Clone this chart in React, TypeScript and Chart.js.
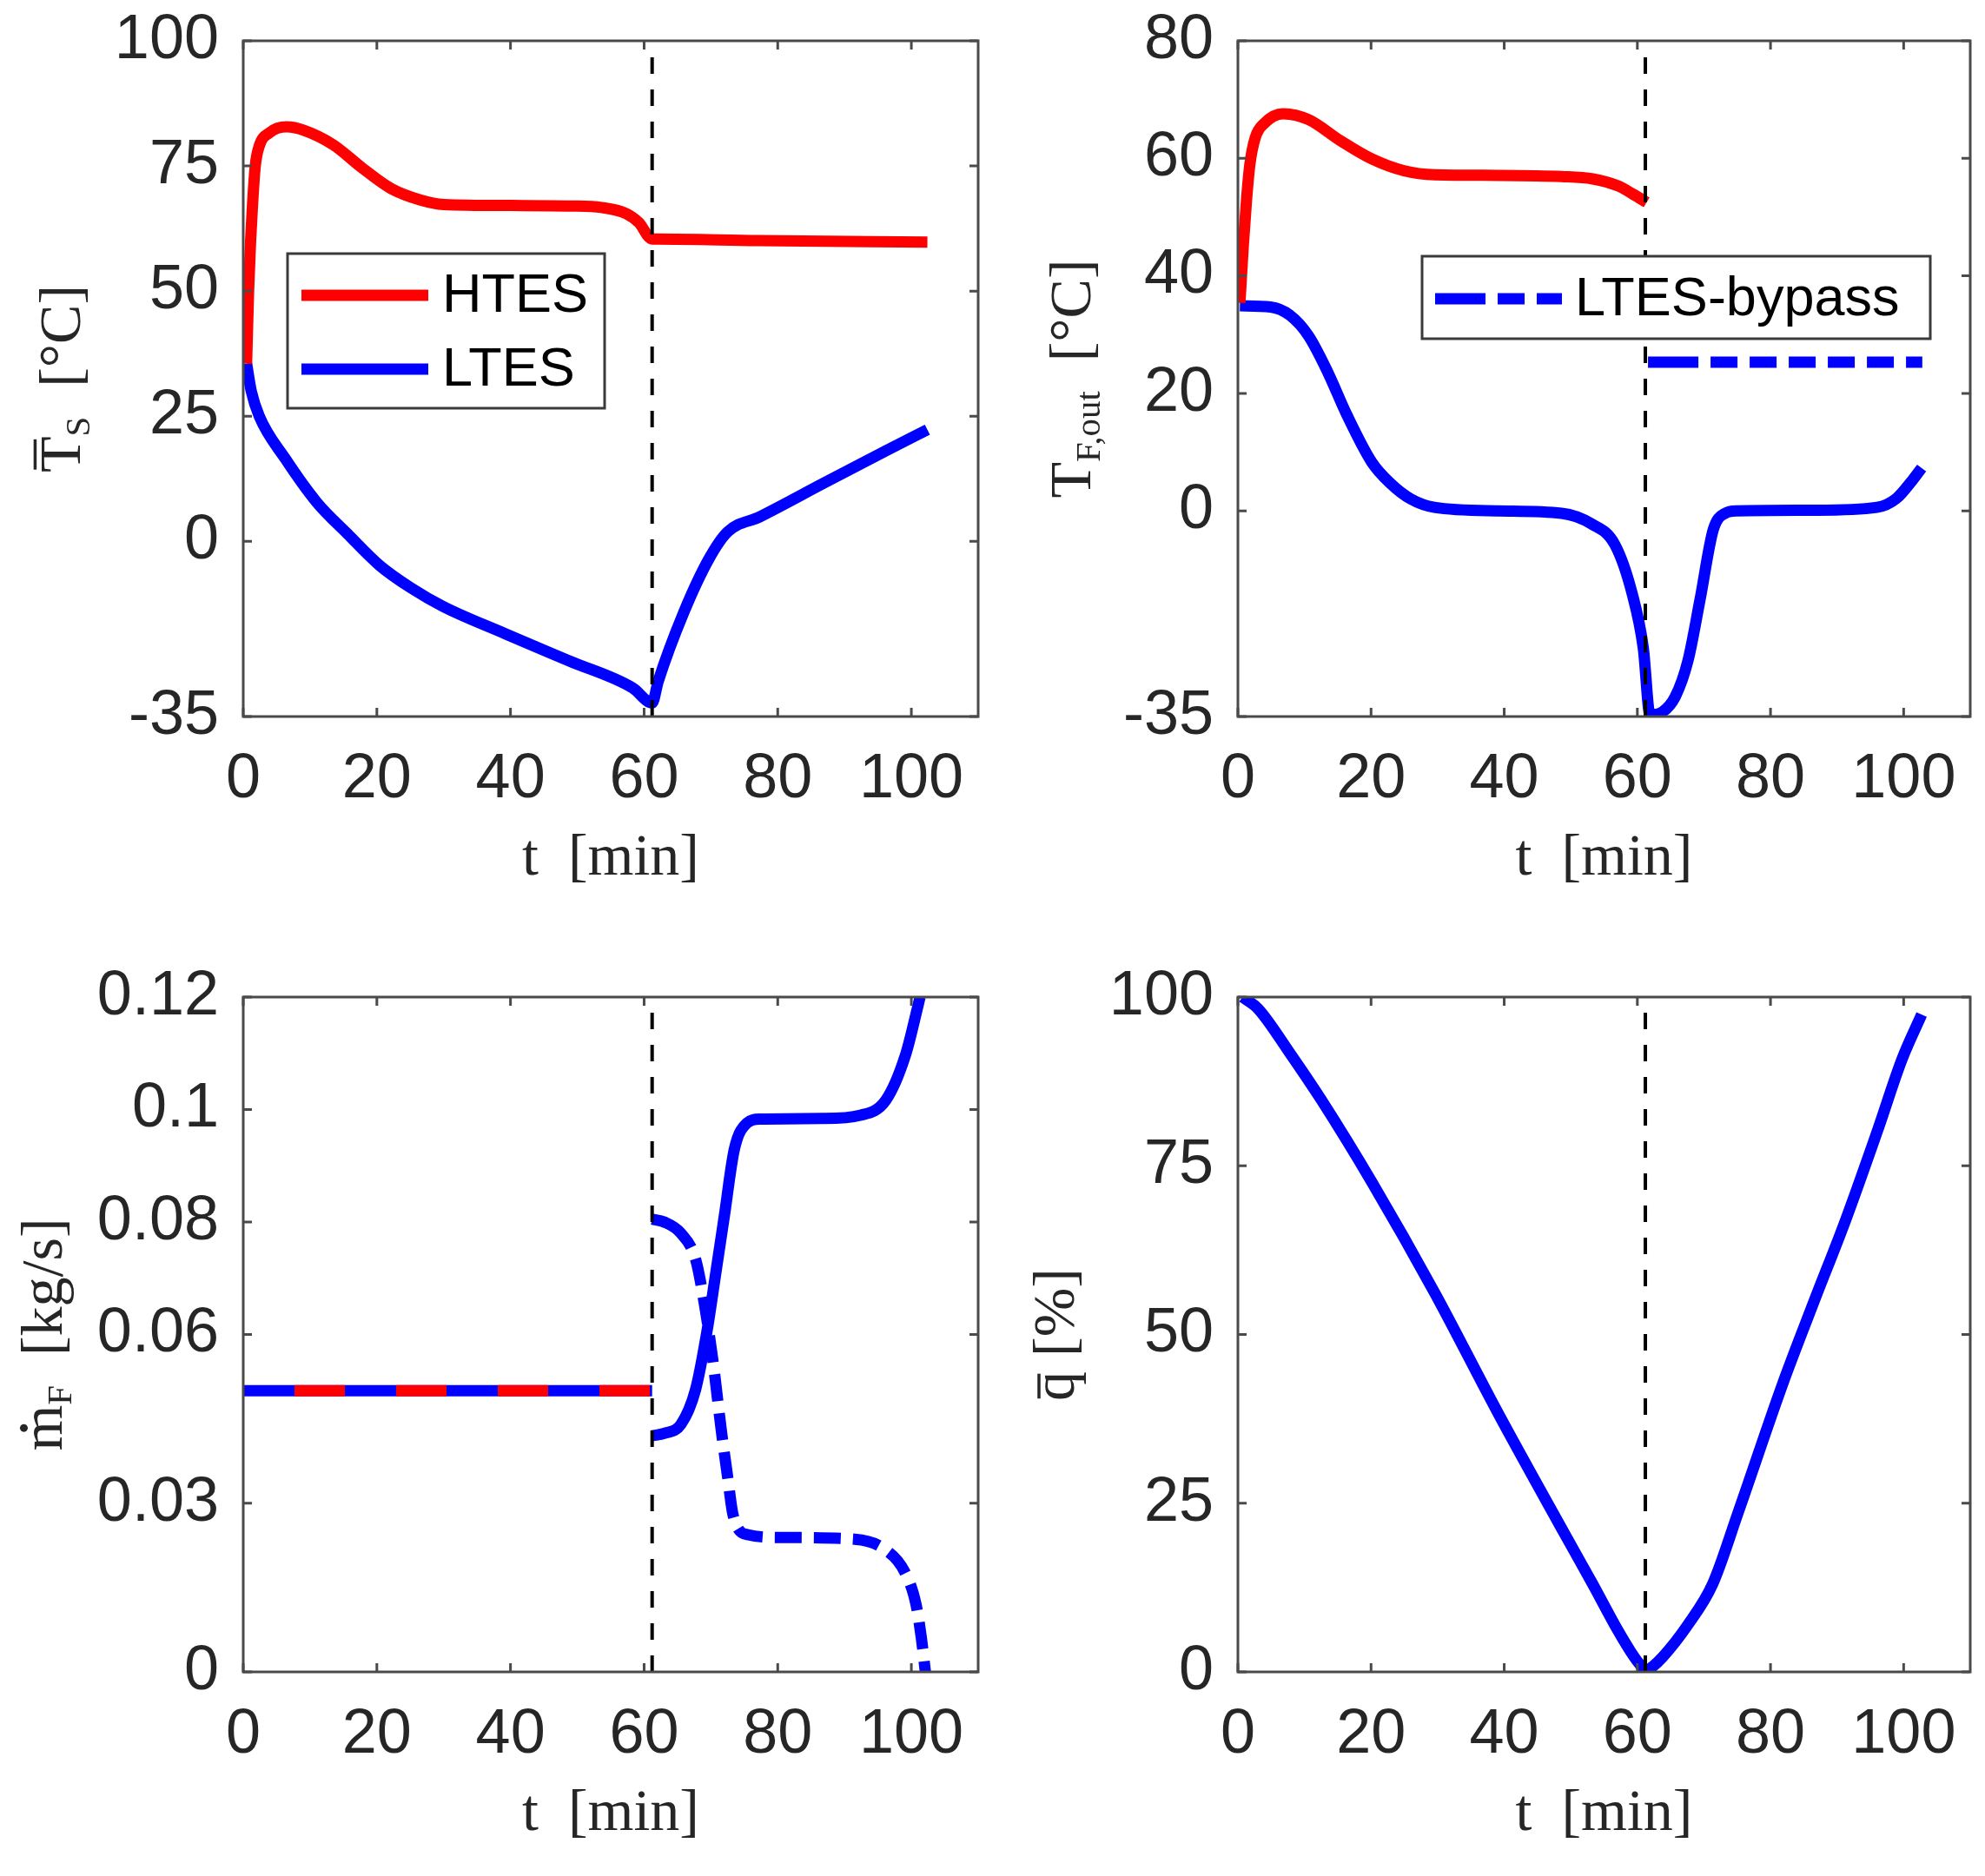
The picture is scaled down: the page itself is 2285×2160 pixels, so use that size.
import React, { useEffect, useRef } from 'react';
import { Chart, registerables } from 'chart.js';

Chart.register(...registerables);

const RED = '#ff0000';
const BLUE = '#0000ff';
const AXIS_COLOR = '#4a4a4a';
const TEXT_COLOR = '#262626';
const SANS = '"Liberation Sans", Arial, sans-serif';
const SERIF = '"Liberation Serif", "Times New Roman", serif';

// ---- shared x axis ----
const X_MIN = 0;
const X_MAX = 110;
const X_TICKS = [0, 20, 40, 60, 80, 100];
const T_SWITCH = 61.2;

// ---- panel 1: mean storage temperature ----
const Y1_MIN = -35;
const Y1_MAX = 100;
const Y1_TICKS = [-35, 0, 25, 50, 75, 100];
const P1_HTES_T = [0.5, 0.8, 1.1, 1.4, 1.8, 2.4, 3.9, 6.5, 9.1, 13.5, 17.8, 22.1, 26.5, 30, 40, 49, 53.6, 57.3, 59.2, 61.2, 62, 77, 102.4];
const P1_HTES_Y = [35.5, 50, 60, 67.5, 75, 79, 81.6, 82.8, 82.1, 79.2, 74.6, 70.5, 68.2, 67.3, 67.1, 67, 66.7, 65.5, 63.7, 60.4, 60.4, 60.1, 59.8];
const P1_LTES_T = [0.5, 1.2, 2.4, 6.3, 11, 15.6, 20.4, 25.1, 29.9, 39.3, 48.8, 58.3, 61.2, 62.1, 65.9, 69.7, 72.5, 77.3, 86.7, 96.2, 102.4];
const P1_LTES_Y = [35.5, 30, 25, 16.5, 7.8, 1.5, -4.8, -9.3, -13, -18.5, -23.9, -29.3, -32.3, -28, -14.3, -3.5, 1.9, 4.9, 11.5, 18.1, 22.3];

// ---- panel 2: fluid outlet temperature ----
const Y2_MIN = -35;
const Y2_MAX = 80;
const Y2_TICKS = [-35, 0, 20, 40, 60, 80];
const P2_HTES_T = [0.3, 0.8, 1.3, 1.8, 2.6, 4, 6.8, 10.6, 15.4, 20.1, 24.9, 29.6, 39.1, 48.6, 53.3, 57.1, 59.5, 61.4];
const P2_HTES_Y = [35.4, 45, 53, 59, 63.5, 66, 67.6, 66.6, 63, 59.9, 57.9, 57.2, 57.1, 56.9, 56.5, 55.3, 53.8, 52.5];
const P2_LTES_T = [0.3, 4.9, 7.8, 10.6, 13.5, 16.3, 20.1, 22.8, 26, 29.5, 39.1, 48.6, 53.1, 56.6, 59.2, 60.9, 61.9, 63.8, 65.7, 67.6, 69.4, 71.4, 73.2, 74.9, 86.5, 96, 98.9, 101.3, 102.7];
const P2_LTES_Y = [34.9, 34.7, 33.3, 29.8, 23.6, 16.5, 8.3, 4.8, 2, 0.6, 0, -0.4, -2.2, -5.7, -14, -23.4, -34.7, -34.2, -31.6, -25.5, -15.2, -3.2, -0.4, 0, 0.1, 0.6, 2.1, 5.2, 7.3];
const P2_BYPASS_T = [61.6, 102.8];
const P2_BYPASS_Y = [25.3, 25.3];

// ---- panel 3: mass flow ----
const Y3_MIN = 0;
const Y3_MAX = 0.12;
const Y3_TICKS = [0, 0.03, 0.06, 0.08, 0.1, 0.12];
const P3_CHARGE_T = [0, 61.2];
const P3_CHARGE_Y = [0.05, 0.05];
const P3_LTES_T = [61.2, 63, 65.5, 67.7, 69.4, 70.7, 72, 73.5, 75.4, 77.3, 86.7, 92.4, 96.2, 99.1, 100.9, 101.3];
const P3_LTES_Y = [0.042, 0.0424, 0.044, 0.0502, 0.0605, 0.0707, 0.081, 0.0929, 0.0976, 0.0983, 0.0984, 0.099, 0.1017, 0.1096, 0.118, 0.12];
const P3_BYPASS_T = [61.2, 63, 65.5, 67.7, 69, 70.3, 71.6, 72.5, 73.3, 75.5, 80.7, 91.5, 95.9, 99, 100.7, 101.5, 102.1];
const P3_BYPASS_Y = [0.0805, 0.08, 0.078, 0.0734, 0.0656, 0.0553, 0.0425, 0.0347, 0.028, 0.0244, 0.0239, 0.0236, 0.0219, 0.0178, 0.012, 0.006, 0];

// ---- panel 4: state of charge ----
const Y4_MIN = 0;
const Y4_MAX = 100;
const Y4_TICKS = [0, 25, 50, 75, 100];
const P4_Q_T = [0.7, 3, 7.8, 12.5, 20.1, 29.6, 39.1, 48.6, 53.3, 57.1, 59, 60.3, 61.3, 62.3, 63.8, 67.6, 71.3, 75.1, 81.8, 86.5, 91.3, 96, 99.8, 102.7];
const P4_Q_Y = [100, 98.3, 91.7, 84.8, 72.6, 56.1, 38.3, 21.3, 13, 6.1, 3, 1.2, 0.2, 0.8, 2.2, 7, 13, 23.5, 42.6, 54.8, 67, 80, 90.9, 97.4];

// ---- styles ----
const LINE_W = 13;
const DASH_BYPASS: number[] = [58, 14].concat(...Array.from({ length: 40 }, () => [31, 14]));
const DASH_VLINE = [19, 18];

const pts = (t: number[], y: number[]) => t.map((x, i) => ({ x, y: y[i] }));

const line = (label: string, t: number[], y: number[], color: string, extra: any = {}) => ({
  label,
  data: pts(t, y),
  borderColor: color,
  backgroundColor: color,
  borderWidth: LINE_W,
  pointRadius: 0,
  fill: false,
  cubicInterpolationMode: 'monotone',
  borderJoinStyle: 'round',
  order: 2,
  ...extra,
});

const vline = (ymin: number, ymax: number) => ({
  label: 'switch',
  data: pts([T_SWITCH, T_SWITCH], [ymin, ymax]),
  borderColor: '#000000',
  borderWidth: 4,
  borderDash: DASH_VLINE,
  pointRadius: 0,
  fill: false,
  order: 0,
});

type Part = { t: string; sub?: boolean; bar?: number; dot?: boolean };

type PanelCfg = {
  left: number; top: number; w: number; h: number;
  ca: { l: number; t: number; r: number; b: number };
  yMin: number; yMax: number; yTicks: number[];
  datasets: any[];
  yTitle: Part[]; yTitleOffset: number;
  legend?: { x: number; y: number; w: number; h: number; labels: string[]; rows: number[]; x0: number; x1: number; tx: number };
};

const X_TITLE: Part[] = [{ t: 't  [min]' }];

const PANELS: PanelCfg[] = [
  {
    left: 0, top: 0, w: 1142, h: 1080,
    ca: { l: 280, t: 47, r: 1126, b: 825 },
    yMin: Y1_MIN, yMax: Y1_MAX, yTicks: Y1_TICKS,
    datasets: [
      vline(Y1_MIN, Y1_MAX),
      line('HTES', P1_HTES_T, P1_HTES_Y, RED),
      line('LTES', P1_LTES_T, P1_LTES_Y, BLUE),
    ],
    yTitle: [{ t: 'T', bar: 0.74 }, { t: 'S', sub: true }, { t: '  [°C]' }],
    yTitleOffset: 188,
    legend: { x: 331, y: 292, w: 365, h: 178, labels: ['HTES', 'LTES'], rows: [340, 425], x0: 347, x1: 493, tx: 509 },
  },
  {
    left: 1142, top: 0, w: 1143, h: 1080,
    ca: { l: 283, t: 47, r: 1126, b: 825 },
    yMin: Y2_MIN, yMax: Y2_MAX, yTicks: Y2_TICKS,
    datasets: [
      vline(Y2_MIN, Y2_MAX),
      line('HTES', P2_HTES_T, P2_HTES_Y, RED),
      line('LTES', P2_LTES_T, P2_LTES_Y, BLUE),
      line('LTES-bypass', P2_BYPASS_T, P2_BYPASS_Y, BLUE, { borderDash: DASH_BYPASS }),
    ],
    yTitle: [{ t: 'T' }, { t: 'F,out', sub: true }, { t: '  [°C]' }],
    yTitleOffset: 170,
    legend: { x: 495, y: 295, w: 585, h: 95, labels: ['LTES-bypass'], rows: [344], x0: 510, x1: 656, tx: 671 },
  },
  {
    left: 0, top: 1080, w: 1142, h: 1080,
    ca: { l: 280, t: 68, r: 1126, b: 845 },
    yMin: Y3_MIN, yMax: Y3_MAX, yTicks: Y3_TICKS,
    datasets: [
      vline(Y3_MIN, Y3_MAX),
      line('HTES', P3_CHARGE_T, P3_CHARGE_Y, RED, { borderDash: [58, 59], borderDashOffset: 58, order: 1 }),
      line('LTES charge', P3_CHARGE_T, P3_CHARGE_Y, BLUE),
      line('LTES', P3_LTES_T, P3_LTES_Y, BLUE),
      line('LTES-bypass', P3_BYPASS_T, P3_BYPASS_Y, BLUE, { borderDash: DASH_BYPASS }),
    ],
    yTitle: [{ t: 'm', dot: true }, { t: 'F', sub: true }, { t: '  [kg/s]' }],
    yTitleOffset: 209,
  },
  {
    left: 1142, top: 1080, w: 1143, h: 1080,
    ca: { l: 283, t: 68, r: 1126, b: 845 },
    yMin: Y4_MIN, yMax: Y4_MAX, yTicks: Y4_TICKS,
    datasets: [
      vline(Y4_MIN, Y4_MAX),
      line('q', P4_Q_T, P4_Q_Y, BLUE),
    ],
    yTitle: [{ t: 'q', bar: 0.57 }, { t: ' [%]' }],
    yTitleOffset: 189,
  },
];

const TITLE_SIZE = 68;

function drawRich(ctx: CanvasRenderingContext2D, parts: Part[], x: number, y: number, rot: number) {
  const subSize = TITLE_SIZE * 0.6;
  ctx.save();
  ctx.translate(x, y);
  ctx.rotate(rot);
  ctx.textAlign = 'left';
  ctx.textBaseline = 'alphabetic';
  ctx.fillStyle = TEXT_COLOR;
  const widths = parts.map((p) => {
    ctx.font = `${p.sub ? subSize : TITLE_SIZE}px ${SERIF}`;
    return ctx.measureText(p.t).width;
  });
  const total = widths.reduce((a, b) => a + b, 0);
  let cx = -total / 2;
  parts.forEach((p, i) => {
    const w = widths[i];
    ctx.font = `${p.sub ? subSize : TITLE_SIZE}px ${SERIF}`;
    const dy = p.sub ? TITLE_SIZE * 0.16 : 0;
    ctx.fillText(p.t, cx, dy);
    if (p.bar) {
      ctx.fillRect(cx + w * 0.08, -TITLE_SIZE * p.bar - 3, w * 0.84, 3.5);
    }
    if (p.dot) {
      ctx.beginPath();
      ctx.arc(cx + w * 0.5, -TITLE_SIZE * 0.64, 4.5, 0, Math.PI * 2);
      ctx.fill();
    }
    cx += w;
  });
  ctx.restore();
}

function makeDecor(cfg: PanelCfg) {
  return {
    id: 'decor',
    afterDatasetsDraw(chart: any) {
      const { ctx, chartArea: a, scales } = chart;
      ctx.save();
      ctx.strokeStyle = AXIS_COLOR;
      ctx.lineWidth = 3;
      ctx.setLineDash([]);
      ctx.strokeRect(a.left, a.top, a.right - a.left, a.bottom - a.top);
      const TL = 10;
      ctx.beginPath();
      X_TICKS.forEach((v) => {
        const px = scales.x.getPixelForValue(v);
        ctx.moveTo(px, a.bottom); ctx.lineTo(px, a.bottom - TL);
        ctx.moveTo(px, a.top); ctx.lineTo(px, a.top + TL);
      });
      cfg.yTicks.forEach((v) => {
        const py = scales.y.getPixelForValue(v);
        ctx.moveTo(a.left, py); ctx.lineTo(a.left + TL, py);
        ctx.moveTo(a.right, py); ctx.lineTo(a.right - TL, py);
      });
      ctx.stroke();
      ctx.restore();
    },
    afterDraw(chart: any) {
      const { ctx, chartArea: a } = chart;
      drawRich(ctx, X_TITLE, (a.left + a.right) / 2, a.bottom + 182, 0);
      drawRich(ctx, cfg.yTitle, a.left - cfg.yTitleOffset, (a.top + a.bottom) / 2, -Math.PI / 2);
      const lg = cfg.legend;
      if (lg) {
        ctx.save();
        ctx.fillStyle = '#ffffff';
        ctx.fillRect(lg.x, lg.y, lg.w, lg.h);
        ctx.strokeStyle = '#3a3a3a';
        ctx.lineWidth = 3;
        ctx.strokeRect(lg.x, lg.y, lg.w, lg.h);
        lg.labels.forEach((lab, i) => {
          const ds = chart.data.datasets.find((d: any) => d.label === lab);
          const yy = lg.rows[i];
          ctx.beginPath();
          ctx.setLineDash(ds.borderDash || []);
          ctx.lineDashOffset = 0;
          ctx.lineWidth = LINE_W;
          ctx.strokeStyle = ds.borderColor;
          ctx.moveTo(lg.x0, yy);
          ctx.lineTo(lg.x1, yy);
          ctx.stroke();
          ctx.setLineDash([]);
          ctx.font = `63px ${SANS}`;
          ctx.fillStyle = '#000000';
          ctx.textAlign = 'left';
          ctx.textBaseline = 'middle';
          ctx.fillText(lab, lg.tx, yy + 2);
        });
        ctx.restore();
      }
    },
  };
}

function Panel({ cfg }: { cfg: PanelCfg }) {
  const ref = useRef<HTMLCanvasElement | null>(null);
  useEffect(() => {
    if (!ref.current) return;
    const tickFont = { family: SANS, size: 72 };
    const chart = new Chart(ref.current, {
      type: 'line',
      data: { datasets: cfg.datasets },
      options: {
        animation: false,
        responsive: false,
        devicePixelRatio: 1,
        events: [],
        layout: { padding: { top: cfg.ca.t, right: cfg.w - cfg.ca.r, left: 0, bottom: 0 } },
        plugins: { legend: { display: false }, tooltip: { enabled: false } },
        scales: {
          x: {
            type: 'linear',
            min: X_MIN,
            max: X_MAX,
            afterBuildTicks: (s: any) => { s.ticks = X_TICKS.map((v) => ({ value: v })); },
            afterFit: (s: any) => {
              s.height = cfg.h - cfg.ca.b;
              s.paddingLeft = 0; s.paddingRight = 0; s.paddingTop = 0; s.paddingBottom = 0;
            },
            grid: { display: false, drawTicks: false },
            border: { display: false },
            ticks: { padding: 30, font: tickFont, color: TEXT_COLOR, autoSkip: false, maxRotation: 0, callback: (v: any) => String(v) },
          },
          y: {
            type: 'linear',
            min: cfg.yMin,
            max: cfg.yMax,
            afterBuildTicks: (s: any) => { s.ticks = cfg.yTicks.map((v) => ({ value: v })); },
            afterFit: (s: any) => {
              s.width = cfg.ca.l;
              s.paddingLeft = 0; s.paddingRight = 0; s.paddingTop = 0; s.paddingBottom = 0;
            },
            grid: { display: false, drawTicks: false },
            border: { display: false },
            ticks: { padding: 28, font: tickFont, color: TEXT_COLOR, autoSkip: false, callback: (v: any) => String(v) },
          },
        },
      } as any,
      plugins: [makeDecor(cfg)],
    });
    return () => chart.destroy();
  }, [cfg]);
  return (
    <canvas
      ref={ref}
      width={cfg.w}
      height={cfg.h}
      style={{ position: 'absolute', left: cfg.left, top: cfg.top, width: cfg.w, height: cfg.h }}
    />
  );
}

export default function App() {
  return (
    <div style={{ position: 'absolute', left: 0, top: 0, width: 2285, height: 2160, background: '#ffffff', overflow: 'hidden' }}>
      {PANELS.map((p, i) => (
        <Panel key={i} cfg={p} />
      ))}
    </div>
  );
}
